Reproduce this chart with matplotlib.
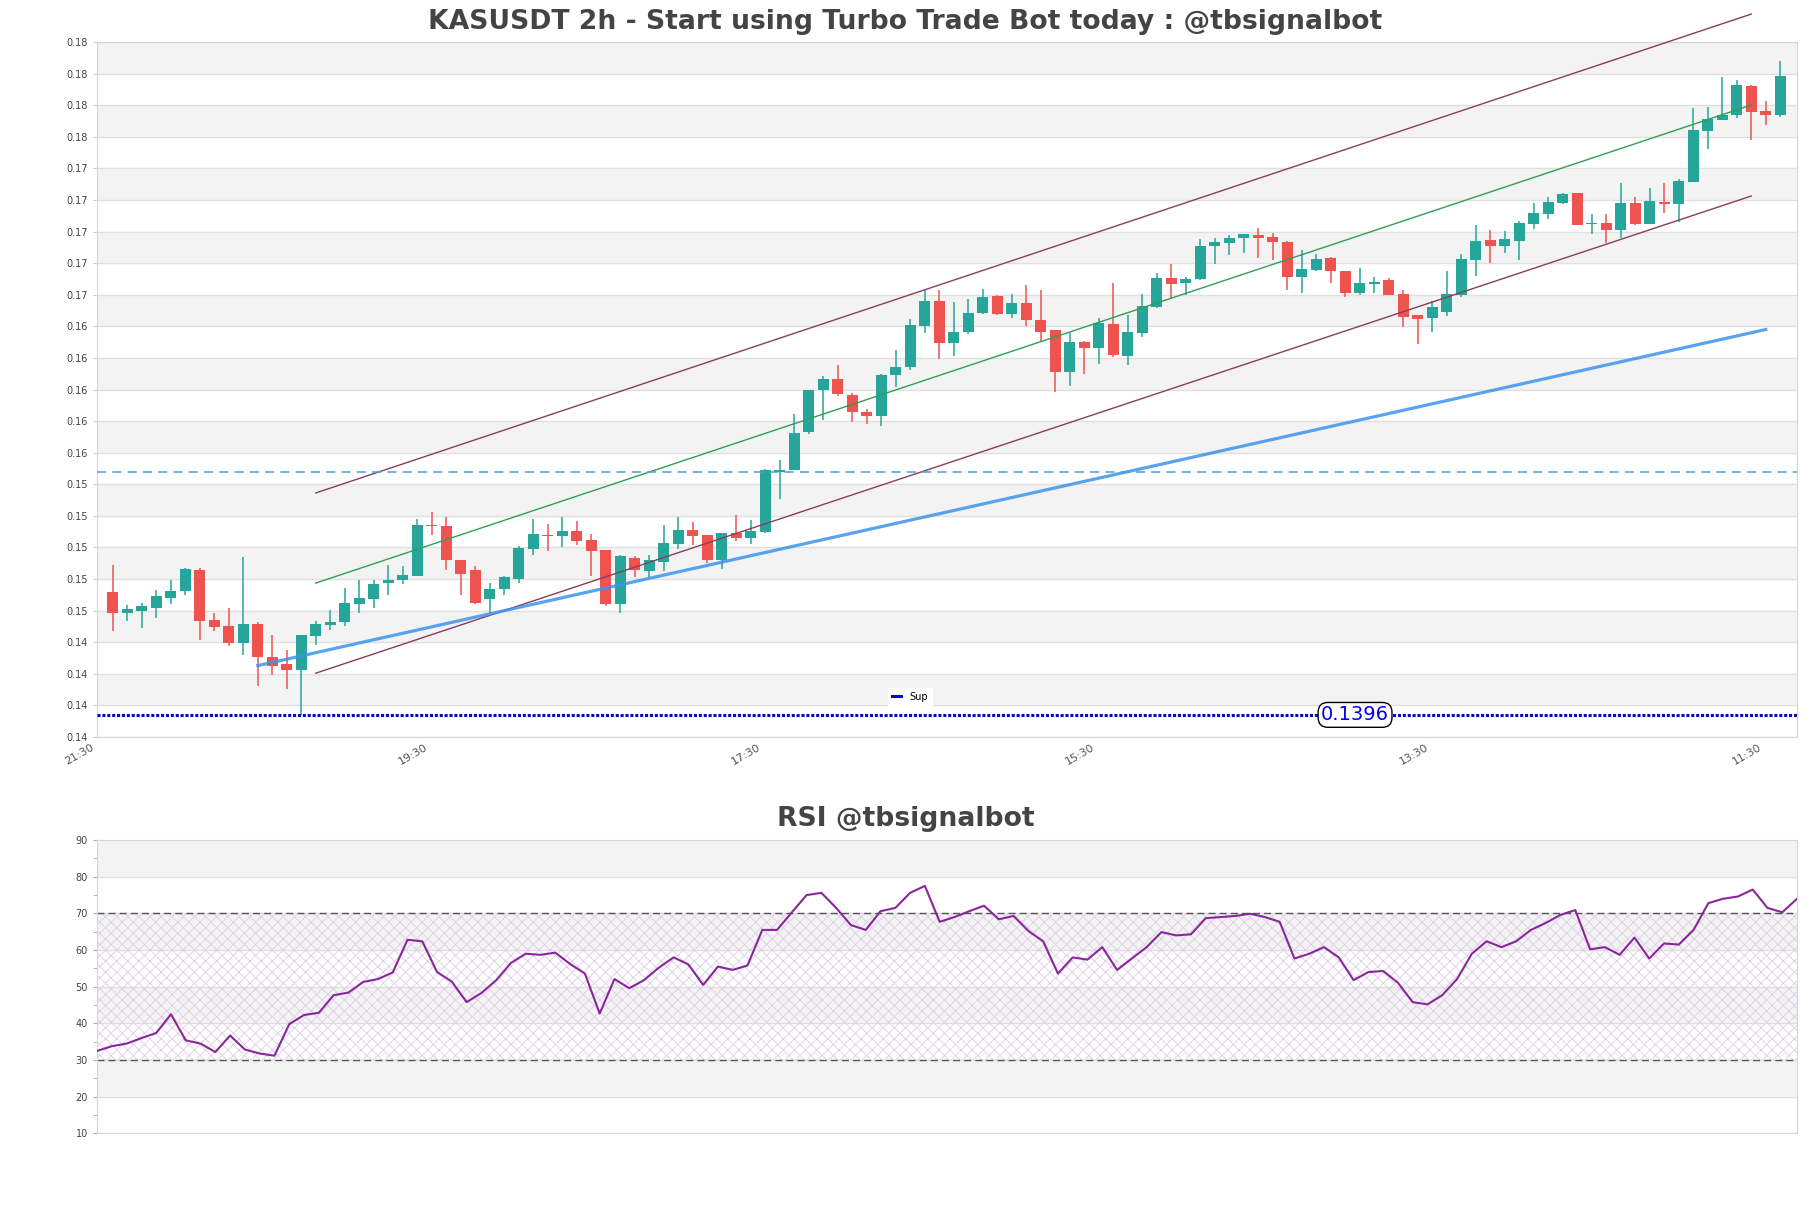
import matplotlib
matplotlib.use('Agg')
import matplotlib.pyplot as plt
import matplotlib.transforms as mtransforms
from matplotlib.lines import Line2D
import numpy as np

# candles (2h), oldest first
opens = [0.14739, 0.14608, 0.14618, 0.14639, 0.14701, 0.14743, 0.14879, 0.14562, 0.14524, 0.14418,
         0.14536, 0.14327, 0.14283, 0.14247, 0.14462, 0.14530, 0.14551, 0.14662, 0.14695, 0.14792,
         0.14815, 0.14842, 0.15164, 0.15158, 0.14943, 0.14879, 0.14695, 0.14758, 0.14821, 0.15012,
         0.15100, 0.15090, 0.15126, 0.15069, 0.15001, 0.14662, 0.14953, 0.14868, 0.14931, 0.15043,
         0.15132, 0.15096, 0.14938, 0.15109, 0.15077, 0.15117, 0.15498, 0.15512, 0.15753, 0.16015,
         0.16089, 0.15988, 0.15880, 0.15851, 0.16110, 0.16161, 0.16425, 0.16578, 0.16313, 0.16383,
         0.16502, 0.16609, 0.16497, 0.16569, 0.16457, 0.16394, 0.16130, 0.16318, 0.16280, 0.16436,
         0.16231, 0.16381, 0.16540, 0.16723, 0.16694, 0.16717, 0.16928, 0.16947, 0.16977, 0.16996,
         0.16983, 0.16952, 0.16732, 0.16776, 0.16850, 0.16768, 0.16628, 0.16687, 0.16713, 0.16622,
         0.16489, 0.16474, 0.16510, 0.16618, 0.16840, 0.16964, 0.16928, 0.16960, 0.17070, 0.17132,
         0.17203, 0.17262, 0.17066, 0.17072, 0.17030, 0.17199, 0.17070, 0.17205, 0.17194, 0.17334,
         0.17659, 0.17729, 0.17758, 0.17943, 0.17781, 0.17760]
highs = [0.14910, 0.14656, 0.14668, 0.14750, 0.14814, 0.14893, 0.14891, 0.14605, 0.14637, 0.14961,
         0.14549, 0.14467, 0.14372, 0.14467, 0.14555, 0.14624, 0.14765, 0.14815, 0.14815, 0.14910,
         0.14904, 0.15202, 0.15246, 0.15210, 0.14943, 0.14900, 0.14796, 0.14842, 0.15027, 0.15202,
         0.15170, 0.15210, 0.15189, 0.15105, 0.15005, 0.14970, 0.14967, 0.14970, 0.15164, 0.15215,
         0.15179, 0.15100, 0.15113, 0.15227, 0.15196, 0.15519, 0.15576, 0.15862, 0.16016, 0.16108,
         0.16178, 0.15999, 0.15899, 0.16121, 0.16273, 0.16468, 0.16649, 0.16651, 0.16573, 0.16594,
         0.16654, 0.16618, 0.16626, 0.16679, 0.16647, 0.16394, 0.16379, 0.16330, 0.16474, 0.16696,
         0.16489, 0.16626, 0.16759, 0.16812, 0.16732, 0.16970, 0.16981, 0.16996, 0.17006, 0.17040,
         0.17008, 0.16960, 0.16901, 0.16880, 0.16861, 0.16772, 0.16787, 0.16734, 0.16723, 0.16647,
         0.16489, 0.16580, 0.16770, 0.16875, 0.17061, 0.17028, 0.17021, 0.17085, 0.17203, 0.17237,
         0.17266, 0.17262, 0.17132, 0.17132, 0.17326, 0.17237, 0.17294, 0.17326, 0.17355, 0.17801,
         0.17811, 0.17998, 0.17979, 0.17949, 0.17846, 0.18101]
lows = [0.14494, 0.14554, 0.14513, 0.14571, 0.14662, 0.14722, 0.14437, 0.14494, 0.14399, 0.14342,
        0.14141, 0.14215, 0.14126, 0.13960, 0.14403, 0.14500, 0.14524, 0.14605, 0.14639, 0.14722,
        0.14786, 0.14842, 0.15096, 0.14879, 0.14716, 0.14662, 0.14605, 0.14718, 0.14798, 0.14973,
        0.14995, 0.15022, 0.15037, 0.14841, 0.14647, 0.14608, 0.14836, 0.14826, 0.14868, 0.15008,
        0.15037, 0.14921, 0.14883, 0.15058, 0.15039, 0.15109, 0.15327, 0.15512, 0.15739, 0.15825,
        0.15977, 0.15813, 0.15802, 0.15787, 0.16034, 0.16142, 0.16379, 0.16216, 0.16231, 0.16373,
        0.16495, 0.16491, 0.16472, 0.16421, 0.16330, 0.16003, 0.16041, 0.16121, 0.16184, 0.16225,
        0.16174, 0.16351, 0.16536, 0.16601, 0.16618, 0.16711, 0.16812, 0.16869, 0.16886, 0.16854,
        0.16837, 0.16649, 0.16628, 0.16770, 0.16693, 0.16605, 0.16618, 0.16628, 0.16618, 0.16417,
        0.16311, 0.16383, 0.16487, 0.16607, 0.16738, 0.16823, 0.16886, 0.16840, 0.17038, 0.17099,
        0.17197, 0.17059, 0.17006, 0.16949, 0.16981, 0.17064, 0.17070, 0.17137, 0.17083, 0.17334,
        0.17545, 0.17729, 0.17741, 0.17601, 0.17695, 0.17747]
closes = [0.14608, 0.14630, 0.14647, 0.14714, 0.14746, 0.14885, 0.14554, 0.14519, 0.14412, 0.14536,
          0.14325, 0.14272, 0.14247, 0.14467, 0.14536, 0.14549, 0.14668, 0.14703, 0.14790, 0.14815,
          0.14846, 0.15164, 0.15153, 0.14941, 0.14852, 0.14668, 0.14756, 0.14833, 0.15018, 0.15107,
          0.15090, 0.15126, 0.15058, 0.14995, 0.14662, 0.14963, 0.14879, 0.14942, 0.15048, 0.15132,
          0.15090, 0.14938, 0.15113, 0.15077, 0.15126, 0.15508, 0.15512, 0.15747, 0.16016, 0.16089,
          0.15992, 0.15876, 0.15851, 0.16115, 0.16165, 0.16430, 0.16578, 0.16313, 0.16387, 0.16506,
          0.16607, 0.16495, 0.16569, 0.16459, 0.16383, 0.16130, 0.16318, 0.16282, 0.16438, 0.16241,
          0.16387, 0.16549, 0.16723, 0.16687, 0.16717, 0.16930, 0.16952, 0.16977, 0.17002, 0.16979,
          0.16954, 0.16732, 0.16780, 0.16844, 0.16770, 0.16630, 0.16692, 0.16702, 0.16618, 0.16480,
          0.16468, 0.16540, 0.16622, 0.16844, 0.16958, 0.16928, 0.16970, 0.17074, 0.17135, 0.17205,
          0.17256, 0.17061, 0.17074, 0.17030, 0.17199, 0.17066, 0.17211, 0.17194, 0.17338, 0.17664,
          0.17731, 0.17760, 0.17947, 0.17778, 0.17760, 0.18006]

rsi = [32.5, 33.8, 34.5, 36.0, 37.4, 42.5, 35.4, 34.5, 32.2, 36.7,
       32.9, 31.8, 31.2, 39.8, 42.3, 42.9, 47.7, 48.4, 51.3, 52.1,
       53.9, 62.8, 62.4, 54.0, 51.4, 45.8, 48.3, 51.8, 56.5, 59.0,
       58.7, 59.3, 56.2, 53.6, 42.7, 52.1, 49.6, 51.8, 55.2, 58.0,
       56.1, 50.5, 55.5, 54.6, 55.8, 65.5, 65.5, 70.3, 75.0, 75.6,
       71.5, 66.8, 65.5, 70.6, 71.5, 75.6, 77.5, 67.7, 69.0, 70.6,
       72.1, 68.4, 69.3, 65.2, 62.4, 53.6, 58.0, 57.4, 60.8, 54.6,
       57.7, 60.8, 64.9, 64.0, 64.3, 68.7, 69.0, 69.3, 69.9, 69.0,
       67.7, 57.7, 59.0, 60.8, 58.0, 51.8, 54.0, 54.3, 51.1, 45.8,
       45.2, 47.7, 52.1, 59.0, 62.4, 60.8, 62.4, 65.5, 67.4, 69.6,
       70.9, 60.2, 60.8, 58.7, 63.4, 57.7, 61.8, 61.5, 65.5, 72.8,
       74.0, 74.6, 76.5, 71.5, 70.3, 74.0]

tick_idx = [0, 23, 46, 69, 92, 115]
tick_labels = ['21:30', '19:30', '17:30', '15:30', '13:30', '11:30']

# channel (upper / lower) and trend line endpoints: (index, price)
chan_x = [14, 113]
chan_upper = [0.15365, 0.18397]
chan_lower = [0.14224, 0.17245]
trend_x = [10, 114]
trend_y = [0.14272, 0.16400]
support = 0.1396
resist = 0.1550

up_col = '#26a69a'
dn_col = '#ef5350'
sup_col = '#0a0ab4'

plt.rcParams['hatch.linewidth'] = 0.6

fig = plt.figure(figsize=(18.11, 12.08), dpi=100)
ax = fig.add_axes([0.0536, 0.3899, 0.9387, 0.5753])
ax2 = fig.add_axes([0.0536, 0.0617, 0.9387, 0.2429])

ymin, ymax = 0.1382, 0.1822
yt = np.linspace(ymin, ymax, 23)
for k in range(22):
    if k % 2 == 1:
        ax.axhspan(yt[k], yt[k + 1], color='#f3f3f3', zorder=0, lw=0)
for v in yt:
    ax.axhline(v, color='#e0e0e0', lw=1, zorder=0.5)

x = np.arange(len(opens))
for i in x:
    o, h, l, c = opens[i], highs[i], lows[i], closes[i]
    col = up_col if c >= o else dn_col
    ax.vlines(i, l, h, color=col, lw=1.1, zorder=2)
    ax.bar(i, abs(c - o), bottom=min(o, c), width=0.74, color=col, zorder=3, lw=0)

ax.plot(chan_x, chan_upper, color='#8a3d5e', lw=1, clip_on=False, zorder=4)
ax.plot(chan_x, chan_lower, color='#8a3d5e', lw=1, zorder=4)
ax.plot(chan_x, [(a + b) / 2 for a, b in zip(chan_upper, chan_lower)], color='#2e9e55', lw=1, zorder=4)
ax.plot(trend_x, trend_y, color='#3d93ec', lw=2.3, alpha=0.85, zorder=4)
ax.axhline(resist, color='#4aa0d8', lw=1.1, ls=(0, (6, 4)), zorder=4)
ax.axhline(support, color=sup_col, lw=2.2, ls=(0, (1, 0.6)), zorder=4)
ax.text(0.74, support, '0.1396', transform=mtransforms.blended_transform_factory(ax.transAxes, ax.transData),
        color='#0000ee', fontsize=14, ha='center', va='center', zorder=6,
        bbox=dict(boxstyle='round,pad=0.15,rounding_size=0.5', fc='white', ec='black', lw=1))
ax.legend(handles=[Line2D([], [], color=sup_col, lw=2.2)], labels=['Sup'], loc='center',
          bbox_to_anchor=(0.478, 0.058), fontsize=7, handlelength=1,
          frameon=True, fancybox=False, framealpha=1, edgecolor='white')

ax.set_xlim(-1.08, 116.16)
ax.set_ylim(ymin, ymax)
ax.set_yticks(yt)
ax.set_yticklabels(['%.2f' % v for v in yt])
ax.set_xticks(tick_idx)
ax.set_xticklabels(tick_labels, rotation=30, ha='right')
ax.tick_params(axis='both', colors='#cccccc', labelcolor='#444444', length=3)
ax.tick_params(axis='y', labelsize=7)
ax.tick_params(axis='x', length=0, labelsize=8, labelcolor='#555555')
offset = mtransforms.ScaledTranslation(-17 / 100, 0, fig.dpi_scale_trans)
for lab in ax.get_xticklabels():
    lab.set_transform(lab.get_transform() + offset)
for s in ax.spines.values():
    s.set_color('#d6d6d6')

# RSI panel
for lo in [20, 40, 60, 80]:
    ax2.axhspan(lo, lo + 10, color='#f3f3f3', zorder=0, lw=0)
for v in range(10, 91, 10):
    ax2.axhline(v, color='#e0e0e0', lw=1, zorder=0.5)
rx = np.arange(len(rsi))
ax2.fill_between(rx, 30, 70, facecolor='none', edgecolor='#dccde6', hatch='xxx', lw=0, zorder=1)
ax2.axhline(70, color='#555555', lw=1, ls=(0, (5, 3)), zorder=2)
ax2.axhline(30, color='#555555', lw=1, ls=(0, (5, 3)), zorder=2)
ax2.plot(rx, rsi, color='#8b259c', lw=1.5, zorder=3)
ax2.set_xlim(0, len(rsi) - 1)
ax2.set_ylim(10, 90)
ax2.set_yticks(range(10, 91, 10))
ax2.set_yticks(range(15, 90, 10), minor=True)
ax2.set_xticks([])
ax2.tick_params(axis='y', which='both', labelsize=7, colors='#aaaaaa', labelcolor='#444444', length=3)
for s in ax2.spines.values():
    s.set_color('#d6d6d6')

fig.text(0.5, 0.982, 'KASUSDT 2h - Start using Turbo Trade Bot today : @tbsignalbot',
         ha='center', va='center', fontsize=19.2, fontweight='bold', color='#444444')
fig.text(0.5, 0.322, 'RSI @tbsignalbot', ha='center', va='center', fontsize=19.2,
         fontweight='bold', color='#444444')

fig.savefig('out.png', dpi=100)
